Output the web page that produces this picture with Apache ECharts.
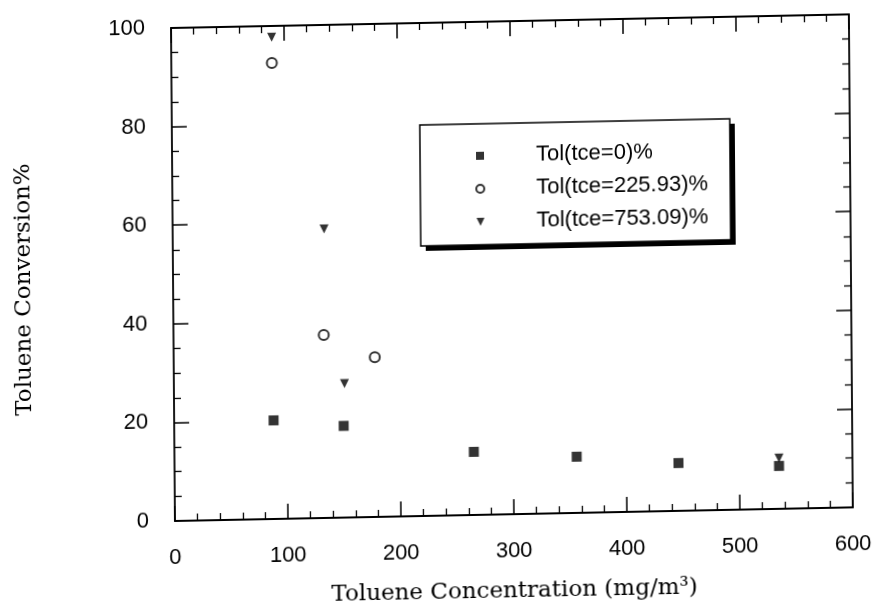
<!DOCTYPE html>
<html><head><meta charset="utf-8">
<script src="https://cdn.jsdelivr.net/npm/echarts@6/dist/echarts.min.js"></script>
<style>
html,body{margin:0;padding:0;background:#fff;overflow:hidden}
#c{width:875px;height:615px;transform-origin:175px 521px;transform:matrix(1,-0.0201,0.008,1,0,0)}
</style>
</head><body><div id="c"></div>
<script>
// series names
const seriesNames = ['Tol(tce=0)%', 'Tol(tce=225.93)%', 'Tol(tce=753.09)%'];
// Tol(tce=0)%
const concTce0 = [88, 150, 265, 356, 446, 535];
const convTce0 = [20.0, 18.6, 12.8, 11.4, 9.7, 8.7];
// Tol(tce=225.93)%
const concTce225 = [89, 133, 178];
const convTce225 = [92.5, 37.1, 32.4];
// Tol(tce=753.09)%
const concTce753 = [89, 134, 151, 535];
const convTce753 = [97.7, 58.6, 27.2, 10.3];
// axis ranges
const xMin = 0, xMax = 600, xStep = 100;
const yMin = 0, yMax = 100, yStep = 20;
const xTitle = 'Toluene Concentration (mg/m³)';
const yTitle = 'Toluene Conversion%';

function pairs(xs, ys) { return xs.map((x, i) => [x, ys[i]]); }

const black = '#000';
const downTriangle = 'path://M0,0L10,0L5,10Z';
const labelFont = { fontFamily: 'Liberation Sans', fontSize: 22, color: black };
function axisCommon(showLabel) {
  return {
    axisLine: { show: true, onZero: false, lineStyle: { color: black, width: 1.8 } },
    axisTick: { show: true, inside: true, length: 15, lineStyle: { color: black, width: 1.5 } },
    minorTick: { show: true, length: 7, lineStyle: { color: black, width: 1.3 } },
    splitLine: { show: false },
    axisLabel: Object.assign({ show: showLabel, margin: 26 }, labelFont)
  };
}

const chart = echarts.init(document.getElementById('c'), null, { renderer: 'canvas' });
const xBottom = Object.assign(axisCommon(true), {
  type: 'value', position: 'bottom', min: xMin, max: xMax, interval: xStep,
  name: xTitle, nameLocation: 'middle', nameGap: 66,
  nameTextStyle: { fontFamily: 'DejaVu Serif', fontSize: 23, color: black }
});
xBottom.minorTick.splitNumber = 5;
const xTop = Object.assign(axisCommon(false), {
  type: 'value', position: 'top', min: xMin, max: xMax, interval: xStep
});
xTop.minorTick.splitNumber = 5;
const yLeft = Object.assign(axisCommon(true), {
  type: 'value', position: 'left', min: yMin, max: yMax, interval: yStep,
  name: yTitle, nameLocation: 'middle', nameGap: 137, nameRotate: 90,
  nameTextStyle: { fontFamily: 'DejaVu Serif', fontSize: 23, color: black, padding: [0, 24, 0, 0] }
});
yLeft.minorTick.splitNumber = 4;
const yRight = Object.assign(axisCommon(false), {
  type: 'value', position: 'right', min: yMin, max: yMax, interval: yStep
});
yRight.minorTick.splitNumber = 4;

const legendBox = { x: 423, y: 130, w: 310, h: 121 };

chart.setOption({
  backgroundColor: '#fff',
  animation: false,
  grid: { left: 175, right: 22, top: 28, bottom: 94, containLabel: false },
  xAxis: [xBottom, xTop],
  yAxis: [yLeft, yRight],
  graphic: [
    { type: 'rect', z: 10, silent: true,
      shape: { x: legendBox.x + 5, y: legendBox.y + 5, width: legendBox.w, height: legendBox.h },
      style: { fill: black } },
    { type: 'rect', z: 11, silent: true,
      shape: { x: legendBox.x, y: legendBox.y, width: legendBox.w, height: legendBox.h },
      style: { fill: '#fff', stroke: black, lineWidth: 1.5 } }
  ],
  legend: {
    z: 20,
    orient: 'vertical', left: legendBox.x, top: legendBox.y,
    itemWidth: 8, itemHeight: 8, itemGap: 11,
    padding: [21, 18, 14, 55],
    backgroundColor: 'transparent', borderWidth: 0,
    textStyle: { fontFamily: 'Liberation Sans', fontSize: 22, lineHeight: 22, color: black, padding: [0, 0, 0, 47] },
    data: [
      { name: seriesNames[0] },
      { name: seriesNames[1] },
      { name: seriesNames[2], icon: downTriangle }
    ]
  },
  series: [
    {
      name: seriesNames[0], type: 'scatter', symbol: 'rect', symbolSize: 10,
      itemStyle: { color: black },
      data: pairs(concTce0, convTce0)
    },
    {
      name: seriesNames[1], type: 'scatter', symbol: 'emptyCircle', symbolSize: 10,
      itemStyle: { color: black, borderColor: black, borderWidth: 1.3 },
      data: pairs(concTce225, convTce225)
    },
    {
      name: seriesNames[2], type: 'scatter', symbol: downTriangle, symbolSize: [9, 9],
      itemStyle: { color: black },
      data: pairs(concTce753, convTce753)
    }
  ]
});
</script>
</body></html>
